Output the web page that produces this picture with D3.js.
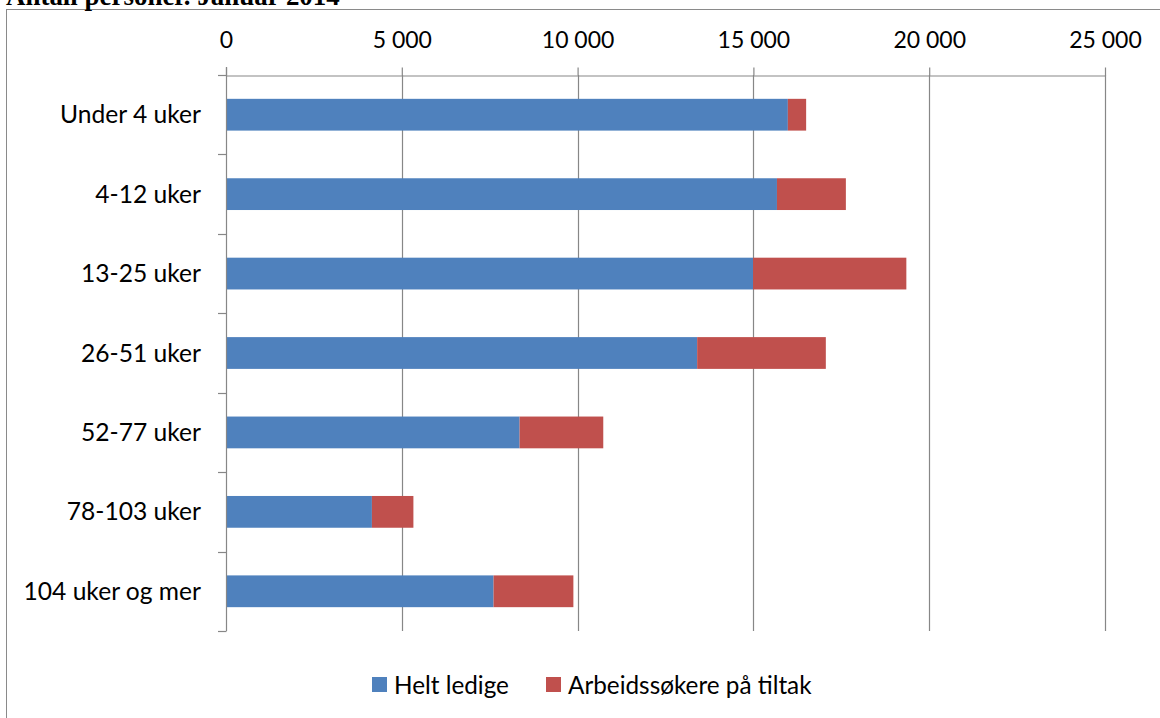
<!DOCTYPE html>
<html>
<head>
<meta charset="utf-8">
<script src="https://cdn.jsdelivr.net/npm/d3@7"></script>
<style>
  html, body { margin: 0; padding: 0; background: #fff; }
  svg { display: block; }
</style>
</head>
<body>
<svg id="chart" width="1160" height="718"></svg>
<script>
// ---- data ----
const categories = ["Under 4 uker", "4-12 uker", "13-25 uker", "26-51 uker", "52-77 uker", "78-103 uker", "104 uker og mer"];
const heltLedige = [15980, 15670, 14990, 13400, 8350, 4150, 7610];
const paTiltak   = [520, 1960, 4360, 3660, 2380, 1180, 2270];
const seriesNames = ["Helt ledige", "Arbeidssøkere på tiltak"];
const xTicks = [0, 5000, 10000, 15000, 20000, 25000];
const titleText = "Antall personer. Januar 2014";

const colors = ["#4f81bd", "#c0504d"];
const gridColor = "#878787";
const FONT = "Lato, 'Open Sans', sans-serif";

const svg = d3.select("#chart");

// helper: fit font-size so text has target width
function fitSize(text, family, weight, target) {
  const t = svg.append("text").attr("font-family", family).attr("font-weight", weight)
    .attr("font-size", 100).text(text);
  const w = t.node().getComputedTextLength();
  t.remove();
  return 100 * target / w;
}

// outer border
svg.append("rect").attr("x", 6.5).attr("y", 9.5).attr("width", 1200).attr("height", 760)
  .attr("fill", "none").attr("stroke", "#8a8a8a").attr("stroke-width", 1);

// title (cut off at the top)
const titleSize = fitSize(titleText, "'Liberation Serif', serif", "bold", 334);
svg.append("text").attr("x", 6).attr("y", 4.5)
  .attr("font-family", "'Liberation Serif', serif").attr("font-weight", "bold")
  .attr("font-size", titleSize).attr("fill", "#000").text(titleText);

// scales
const x = d3.scaleLinear().domain([0, 25000]).range([226, 1105]);
const y = d3.scaleBand().domain(categories).range([75, 631]).paddingInner(0.6).paddingOuter(0.3);
const step = y.step();

const fmt = d3.formatLocale({ decimal: ",", thousands: "\u00a0", grouping: [3], currency: ["", ""] }).format(",d");

// gridlines
svg.append("g").selectAll("line").data(xTicks.filter(d => d > 0)).join("line")
  .attr("x1", d => Math.round(x(d)) + 0.5).attr("x2", d => Math.round(x(d)) + 0.5)
  .attr("y1", 75).attr("y2", 631)
  .attr("stroke", gridColor).attr("stroke-width", 1.2);

// stacked bars
const stackData = categories.map((c, i) => ({ cat: c, a: heltLedige[i], b: paTiltak[i] }));
const stack = d3.stack().keys(["a", "b"])(stackData);
svg.append("g").selectAll("g").data(stack).join("g")
  .attr("fill", (d, i) => colors[i])
  .selectAll("rect").data(d => d).join("rect")
  .attr("x", d => x(d[0]))
  .attr("width", d => x(d[1]) - x(d[0]))
  .attr("y", d => y(d.data.cat))
  .attr("height", y.bandwidth());

// x axis (top)
const tickSize = fitSize("25 000", FONT, "normal", 72.6);
const xAxis = svg.append("g").attr("transform", "translate(0,75.5)")
  .call(d3.axisTop(x).tickValues(xTicks).tickSize(8).tickSizeOuter(0).tickFormat(d => fmt(d).replace(/\u00a0/g, " ")));
xAxis.select(".domain").attr("stroke", gridColor).attr("stroke-width", 1.2);
xAxis.selectAll(".tick line").attr("stroke", gridColor).attr("stroke-width", 1.2);
xAxis.selectAll(".tick text").attr("font-family", FONT).attr("font-size", tickSize)
  .attr("fill", "#000").attr("y", -27.5).attr("dy", 0);

// y axis (left)
const yAxisG = svg.append("g");
yAxisG.append("line").attr("x1", 226.5).attr("x2", 226.5).attr("y1", 67).attr("y2", 631)
  .attr("stroke", gridColor).attr("stroke-width", 1.2);
const boundaries = categories.map(c => y(c) - step * 0.3).concat([y(categories[categories.length - 1]) + y.bandwidth() + step * 0.3]);
yAxisG.selectAll("line.tk").data(boundaries).join("line").attr("class", "tk")
  .attr("x1", 218).attr("x2", 226.5)
  .attr("y1", d => Math.round(d) + 0.5).attr("y2", d => Math.round(d) + 0.5)
  .attr("stroke", gridColor).attr("stroke-width", 1.2);
const labelSize = fitSize("Under 4 uker", FONT, "normal", 141);
yAxisG.selectAll("text").data(categories).join("text")
  .attr("x", 201).attr("y", d => y(d) + y.bandwidth() / 2 + 8.5)
  .attr("text-anchor", "end").attr("font-family", FONT).attr("font-size", labelSize)
  .attr("fill", "#000").text(d => d);

// legend
const legendSize = fitSize("Helt ledige", FONT, "normal", 115);
const legendX = [372, 546];
const legend = svg.append("g");
seriesNames.forEach((name, i) => {
  legend.append("rect").attr("x", legendX[i]).attr("y", 677).attr("width", 15).attr("height", 15)
    .attr("fill", colors[i]);
  legend.append("text").attr("x", legendX[i] + 22).attr("y", 694)
    .attr("font-family", FONT).attr("font-size", legendSize).attr("fill", "#000").text(name);
});
</script>
</body>
</html>
